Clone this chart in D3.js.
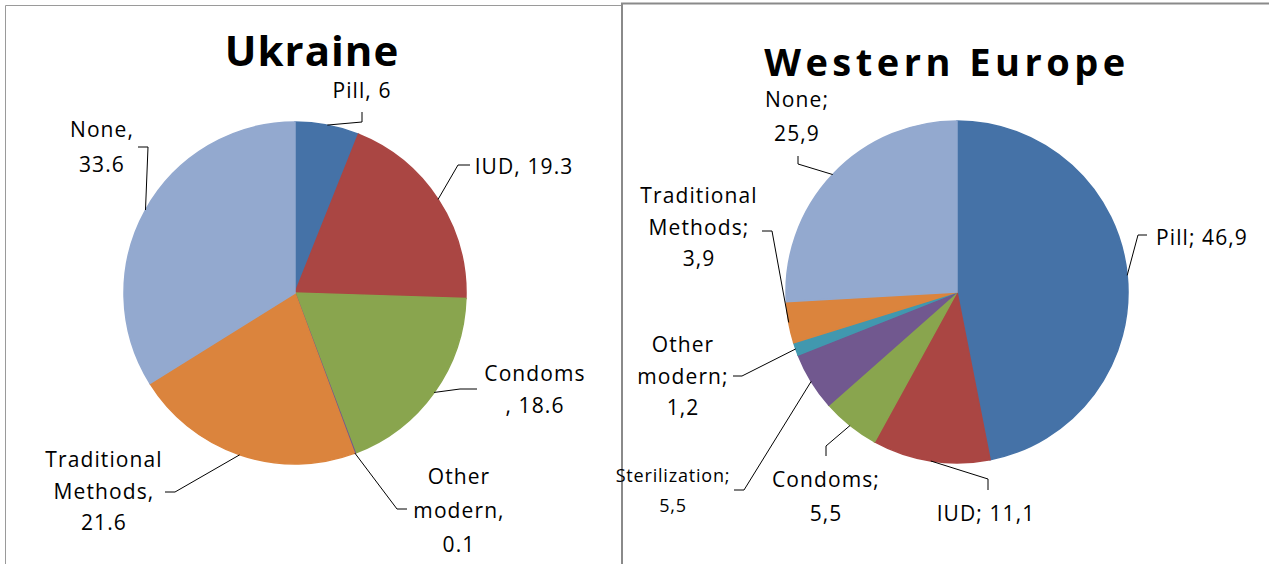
<!DOCTYPE html>
<html>
<head>
<meta charset="utf-8">
<script src="https://cdn.jsdelivr.net/npm/d3@7"></script>
<style>
  body { margin: 0; background: #fff; }
  svg text { font-family: "Open Sans", sans-serif; fill: #000; }
</style>
</head>
<body>
<svg id="chart"></svg>
<script>
// --- data ---
const ukraineMethods = ["Pill", "IUD", "Condoms", "Other modern", "Traditional Methods", "None"];
const ukraineValues  = [6, 19.3, 18.6, 0.1, 21.6, 33.6];
const ukraineLabels  = [["Pill, 6"], ["IUD, 19.3"], ["Condoms", ", 18.6"], ["Other", "modern,", "0.1"], ["Traditional", "Methods,", "21.6"], ["None,", "33.6"]];

const europeMethods = ["Pill", "IUD", "Condoms", "Sterilization", "Other modern", "Traditional Methods", "None"];
const europeValues  = [46.9, 11.1, 5.5, 5.5, 1.2, 3.9, 25.9];
const europeLabels  = [["Pill; 46,9"], ["IUD; 11,1"], ["Condoms;", "5,5"], ["Sterilization;", "5,5"], ["Other", "modern;", "1,2"], ["Traditional", "Methods;", "3,9"], ["None;", "25,9"]];

// --- styles / layout ---
const ukraineColors = ["#4572A7", "#AA4643", "#89A54E", "#71588F", "#DB843D", "#93A9CF"];
const europeColors  = ["#4572A7", "#AA4643", "#89A54E", "#71588F", "#4198AF", "#DB843D", "#93A9CF"];

// label centre x, first baseline y, line height, leader start + knee
const ukraineLayout = [
  { x: 362, y: 98,  lh: 33, lead: [[362, 112], [362, 122]] },
  { x: 524, y: 174, lh: 33, lead: [[470, 165], [458, 165]] },
  { x: 535, y: 381, lh: 32, lead: [[477, 389], [460, 389]] },
  { x: 459, y: 484, lh: 34, lead: [[407, 509], [397, 509]] },
  { x: 104, y: 467, lh: 31.5, lead: [[165, 492], [175, 492]] },
  { x: 102, y: 137, lh: 34.5, lead: [[138, 147], [148, 147]] }
];
const europeLayout = [
  { x: 1202, y: 245, lh: 32, lead: [[1147, 235], [1138, 235]] },
  { x: 986,  y: 521, lh: 32, lead: [[988, 490], [988, 479]] },
  { x: 826,  y: 487, lh: 34, lead: [[826, 456], [826, 446]] },
  { x: 673,  y: 482, lh: 30, lead: [[734, 490], [744, 490]], small: true },
  { x: 683,  y: 352, lh: 31.5, lead: [[733, 376], [742, 376]] },
  { x: 699,  y: 203, lh: 31.5, lead: [[762, 231], [772, 231]] },
  { x: 797,  y: 107, lh: 34, lead: [[798, 156], [798, 164]] }
];

const width = 1269, height = 564;

const svg = d3.select("#chart")
  .attr("width", width)
  .attr("height", height);

// panel frames
svg.append("path")
  .attr("d", `M5.5,${height} V5.5 H621`)
  .attr("fill", "none")
  .attr("stroke", "#9a9a9a")
  .attr("stroke-width", 1);
svg.append("path")
  .attr("d", `M622,${height} V3.5 H${width}`)
  .attr("fill", "none")
  .attr("stroke", "#8a8a8a")
  .attr("stroke-width", 2);

const drawPie = ({ title, tx, ty, tsize, tspacing, cx, cy, r, values, labels, colors, layout }) => {
  const g = svg.append("g");

  g.append("text")
    .attr("x", tx)
    .attr("y", ty)
    .attr("text-anchor", "middle")
    .style("font-size", tsize + "px")
    .style("font-weight", "bold")
    .style("letter-spacing", tspacing + "px")
    .text(title);

  const pie = d3.pie().sort(null).value(d => d);
  const arcs = pie(values);
  const arc = d3.arc().innerRadius(0).outerRadius(r);
  const edge = d3.arc().innerRadius(r).outerRadius(r);

  const chart = g.append("g").attr("transform", `translate(${cx},${cy})`);

  chart.selectAll(".slice")
    .data(arcs)
    .join("path")
    .attr("class", "slice")
    .attr("d", arc)
    .attr("fill", (d, i) => colors[i])
    .attr("stroke", (d, i) => colors[i])
    .attr("stroke-width", 1.5);

  // leader lines: label -> knee -> middle of slice edge
  g.selectAll(".leader")
    .data(arcs)
    .join("polyline")
    .attr("class", "leader")
    .attr("fill", "none")
    .attr("stroke", "#000")
    .attr("stroke-width", 1)
    .attr("points", (d, i) => {
      const [ex, ey] = edge.centroid(d);
      const pts = layout[i].lead.concat([[cx + ex, cy + ey]]);
      return pts.map(p => p.join(",")).join(" ");
    });

  labels.forEach((lines, i) => {
    const L = layout[i];
    const t = g.append("text")
      .attr("text-anchor", "middle")
      .style("font-size", (L.small ? 18 : 21) + "px")
      .style("letter-spacing", (L.small ? 0.8 : 1.1) + "px");
    lines.forEach((s, j) => {
      t.append("tspan")
        .attr("x", L.x)
        .attr("y", L.y + j * L.lh)
        .text(s);
    });
  });
};

drawPie({
  title: "Ukraine", tx: 312, ty: 66, tsize: 42, tspacing: 1,
  cx: 295, cy: 293, r: 171,
  values: ukraineValues, labels: ukraineLabels, colors: ukraineColors, layout: ukraineLayout
});

drawPie({
  title: "Western Europe", tx: 947, ty: 76, tsize: 38, tspacing: 4.5,
  cx: 957, cy: 292, r: 171,
  values: europeValues, labels: europeLabels, colors: europeColors, layout: europeLayout
});
</script>
</body>
</html>
